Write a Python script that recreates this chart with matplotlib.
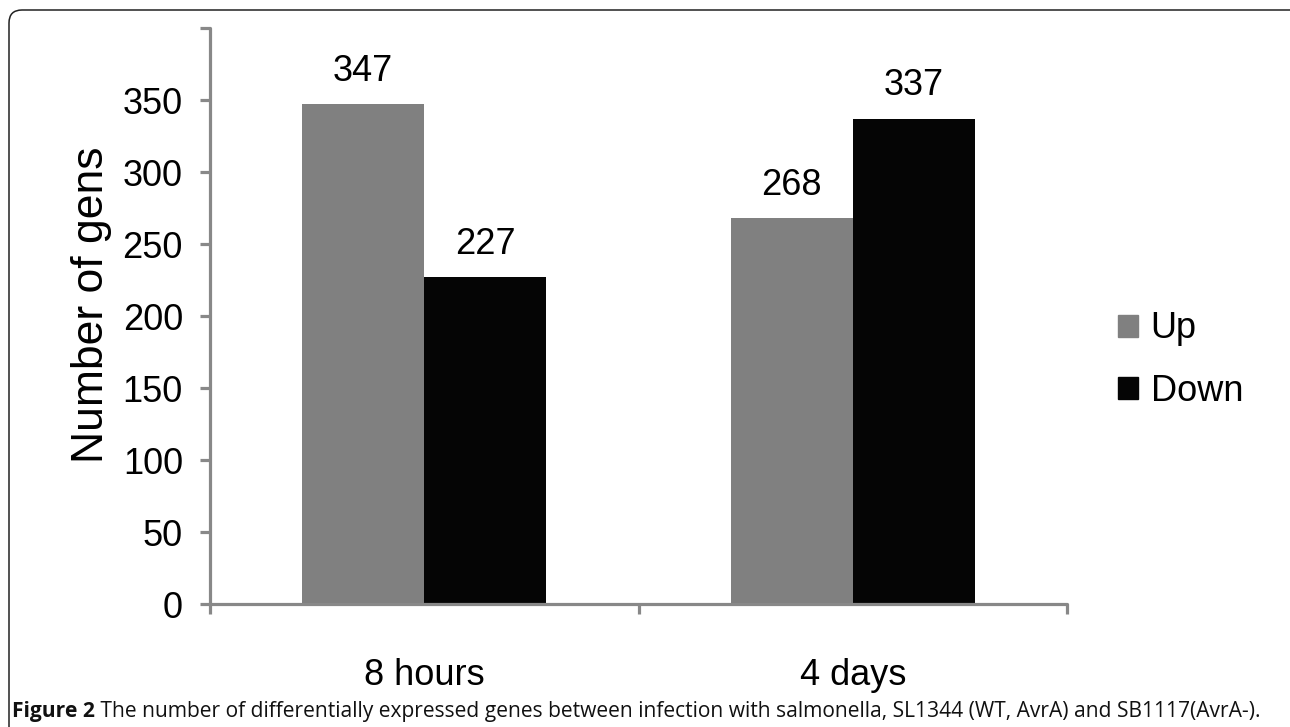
import matplotlib
matplotlib.use("Agg")
import matplotlib.pyplot as plt
from matplotlib.patches import FancyBboxPatch, Patch
from matplotlib.transforms import IdentityTransform
import numpy as np

categories = ["8 hours", "4 days"]
series_names = ["Up", "Down"]
up_values = [347, 268]
down_values = [227, 337]
y_ticks = [0, 50, 100, 150, 200, 250, 300, 350, 400]
y_tick_labels = ["0", "50", "100", "150", "200", "250", "300", "350", ""]
y_label = "Number of gens"
caption_bold = "Figure 2"
caption_rest = " The number of differentially expressed genes between infection with salmonella, SL1344 (WT, AvrA) and SB1117(AvrA-)."

W, H = 1290, 727
DPI = 100
fig = plt.figure(figsize=(W / DPI, H / DPI), dpi=DPI)
fig.patch.set_facecolor("white")

sans = ["Liberation Sans", "DejaVu Sans"]
FS = 26
AX_GRAY = "#888888"
UP_COLOR = "#808080"
DOWN_COLOR = "#050505"

ax = fig.add_axes([210 / W, 1 - 604 / H, (1067 - 210) / W, (604 - 28) / H])
x = np.arange(len(categories))
bw = 0.285
b1 = ax.bar(x - bw / 2, up_values, bw, color=UP_COLOR, label=series_names[0])
b2 = ax.bar(x + bw / 2, down_values, bw, color=DOWN_COLOR, label=series_names[1])
ax.set_xlim(-0.5, len(categories) - 0.5)
ax.set_ylim(0, 400)

for s in ["top", "right"]:
    ax.spines[s].set_visible(False)
for s in ["left", "bottom"]:
    ax.spines[s].set_color(AX_GRAY)
    ax.spines[s].set_linewidth(2.3)
    ax.spines[s].set_capstyle("round")

ax.set_yticks(y_ticks)
ax.set_yticklabels(y_tick_labels, family=sans, fontsize=FS)
ax.tick_params(axis="y", direction="out", length=7.5, width=2.3, color=AX_GRAY, pad=12)

ax.set_xticks(x)
ax.set_xticklabels(categories, family=sans, fontsize=FS)
ax.set_xticks(np.arange(len(categories) + 1) - 0.5, minor=True)
ax.tick_params(axis="x", which="major", length=0, pad=39)
ax.tick_params(axis="x", which="minor", direction="out", length=7.5, width=2.3, color=AX_GRAY)

for bars in (b1, b2):
    ax.bar_label(bars, labels=[str(v) for v in bars.datavalues], padding=11,
                 family=sans, fontsize=FS)

fig.text(92 / W, 1 - 305 / H, y_label, rotation=90, ha="center", va="center",
         family=sans, fontsize=32)

handles = [Patch(color=UP_COLOR), Patch(color=DOWN_COLOR)]
leg = fig.legend(handles, series_names, loc="center left",
                 bbox_to_anchor=(1118 / W, 1 - 360 / H), frameon=False,
                 prop={"family": sans, "size": FS}, handlelength=0.55, handleheight=0.55,
                 handletextpad=0.35, labelspacing=0.75, borderpad=0, borderaxespad=0)

# outer frame
frame = FancyBboxPatch((9, -40), 1295, H - 10 + 40, boxstyle="round,pad=0,rounding_size=13",
                       transform=IdentityTransform(), facecolor="none", edgecolor="#222222",
                       linewidth=1.1, clip_on=False)
fig.patches.append(frame)

# caption
cap_font = ["Open Sans", "DejaVu Sans"]
fig.canvas.draw()
r = fig.canvas.get_renderer()
cfs = 11.5
t1 = fig.text(12 / W, 1 - 711 / H, caption_bold, fontsize=cfs, fontweight="bold",
              family=cap_font, va="center", ha="left", color="#111111")
bb = t1.get_window_extent(r)
t2 = fig.text(bb.x1 / W, 1 - 711 / H, caption_rest, fontsize=cfs, family=cap_font,
              va="center", ha="left", color="#111111", fontweight="medium")
bb2 = t2.get_window_extent(r)
total = bb2.x1 - bb.x0
scale = (1262 - 12) / total
cfs2 = cfs * scale
t1.set_fontsize(cfs2)
t2.set_fontsize(cfs2)
bb = t1.get_window_extent(r)
t2.set_x(bb.x1 / W)

fig.savefig("out.png", dpi=DPI)
